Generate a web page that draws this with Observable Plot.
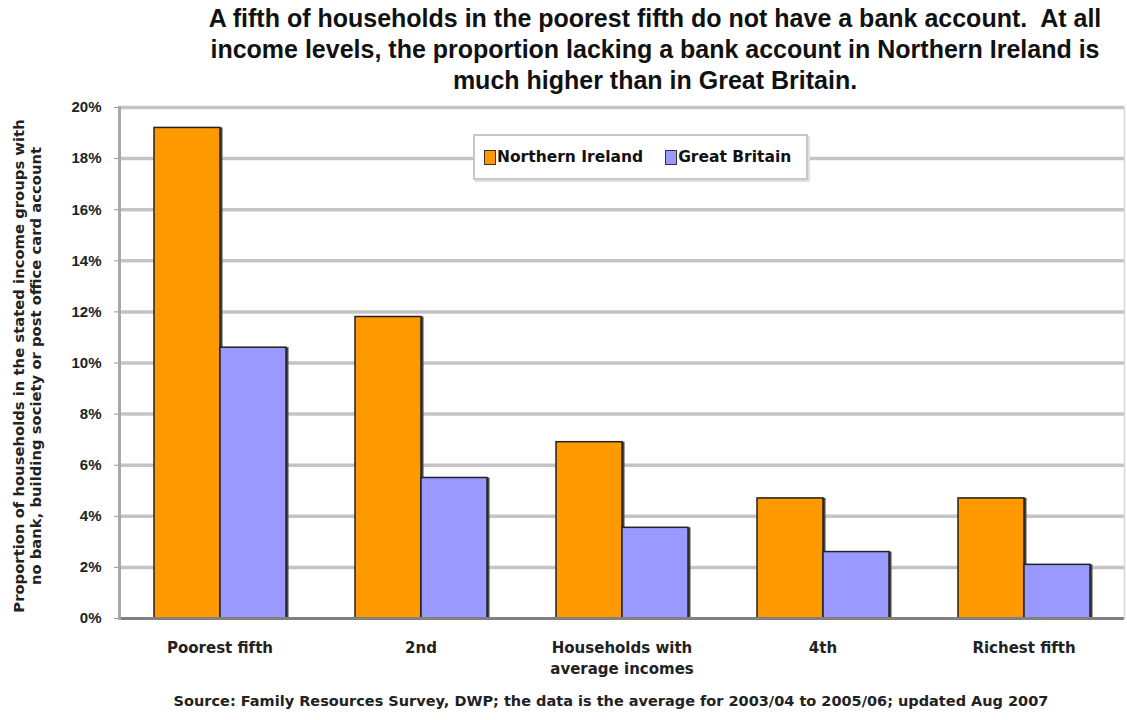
<!DOCTYPE html>
<html><head><meta charset="utf-8">
<script src="https://cdn.jsdelivr.net/npm/d3@7"></script>
<script src="https://cdn.jsdelivr.net/npm/@observablehq/plot@0.6"></script>
<style>
body{margin:0;background:#fff;font-family:"Liberation Sans",Arial,sans-serif;}
#wrap{position:relative;width:1127px;height:720px;overflow:hidden;background:#fff;}
#title{position:absolute;left:155px;width:1000px;top:3px;text-align:center;font-weight:bold;font-size:25px;line-height:31px;color:#111;white-space:pre;}
#chart{position:absolute;left:0;top:95px;}
#ylabel{position:absolute;left:-232px;top:348px;width:520px;height:36px;transform:rotate(-90deg);text-align:center;font-family:"DejaVu Sans",sans-serif;font-weight:bold;font-size:14.8px;line-height:17px;color:#222;white-space:pre;}
#legend{position:absolute;left:473px;top:134px;width:322px;height:42px;background:#fff;border:2px solid #c8c8c8;box-shadow:2px 2px 0 #e0e0e0;display:flex;align-items:center;padding-left:9px;box-sizing:content-box;font-family:"DejaVu Sans",sans-serif;font-weight:bold;font-size:15.5px;color:#111;white-space:nowrap;}
#legend .sw{display:inline-block;width:10px;height:13px;border:1px solid #333;margin-right:1px;flex:none;}
#legend .item{display:flex;align-items:center;margin-right:22px;flex:none;}
#source{position:absolute;left:100px;width:1022px;top:693px;text-align:center;font-family:"DejaVu Sans",sans-serif;font-weight:bold;font-size:14.5px;color:#222;white-space:pre;}
</style></head>
<body>
<div id="wrap">
  <div id="title"></div>
  <div id="chart"></div>
  <div id="ylabel"></div>
  <div id="legend"></div>
  <div id="source"></div>
</div>
<script>
const titleLines = [
  "A fifth of households in the poorest fifth do not have a bank account.  At all",
  "income levels, the proportion lacking a bank account in Northern Ireland is",
  "much higher than in Great Britain."
];
const yLabelLines = [
  "Proportion of households in the stated income groups with",
  "no bank, building society or post office card account"
];
const sourceText = "Source: Family Resources Survey, DWP; the data is the average for 2003/04 to 2005/06; updated Aug 2007";
const categories = ["Poorest fifth", "2nd", "Households with\naverage incomes", "4th", "Richest fifth"];
const series = ["Northern Ireland", "Great Britain"];
const northernIreland = [19.2, 11.8, 6.9, 4.7, 4.7];
const greatBritain = [10.6, 5.5, 3.55, 2.6, 2.1];
const yTicks = [0, 2, 4, 6, 8, 10, 12, 14, 16, 18, 20];
const colors = ["#FF9900", "#9999FF"];

const data = [];
categories.forEach((c, i) => {
  data.push({category: c, series: series[0], value: northernIreland[i]});
  data.push({category: c, series: series[1], value: greatBritain[i]});
});

document.getElementById("title").textContent = titleLines.join("\n");
document.getElementById("ylabel").textContent = yLabelLines.join("\n");
document.getElementById("source").textContent = sourceText;
document.getElementById("legend").innerHTML = series.map((s, i) =>
  `<span class="item"><span class="sw" style="background:${colors[i]}"></span>${s}</span>`).join("");

const chart = Plot.plot({
  width: 1127,
  height: 600,
  marginLeft: 118,
  marginRight: 2,
  marginTop: 12,
  marginBottom: 77,
  style: {fontFamily: '"Liberation Sans", Arial, sans-serif', fontWeight: "bold", color: "#222", background: "transparent"},
  fx: {domain: categories, padding: 0, label: null, axis: null},
  x: {domain: series, axis: null, paddingInner: 0, paddingOuter: 0.517},
  y: {domain: [0, 20], axis: null},
  color: {domain: series, range: colors},
  marks: [
    Plot.ruleY(yTicks.slice(1), {stroke: "#c4c4c4", strokeWidth: 3.5}),
    Plot.barY(data, {fx: "category", x: "series", y: "value", fill: "#444", dx: 2.5}),
    Plot.barY(data, {fx: "category", x: "series", y: "value", fill: "series", stroke: "#222", strokeWidth: 1.5}),
    Plot.ruleY([0], {stroke: "#808080", strokeWidth: 3}),
    Plot.axisY({ticks: yTicks, tickFormat: d => d + "%", tickSize: 5, tickPadding: 13, stroke: "#999", fontSize: 15, label: null}),
    Plot.axisFx({anchor: "bottom", tickSize: 0, tickPadding: 20, fontSize: 15, fontFamily: '"DejaVu Sans", sans-serif', label: null, lineHeight: 1.4}),
    Plot.frame({anchor: "left", stroke: "#a8a8a8", strokeWidth: 3, facet: "super"}),
    Plot.frame({anchor: "right", stroke: "#d8d8d8", strokeWidth: 1.5, facet: "super"})
  ]
});
document.getElementById("chart").appendChild(chart);
</script>
</body></html>
